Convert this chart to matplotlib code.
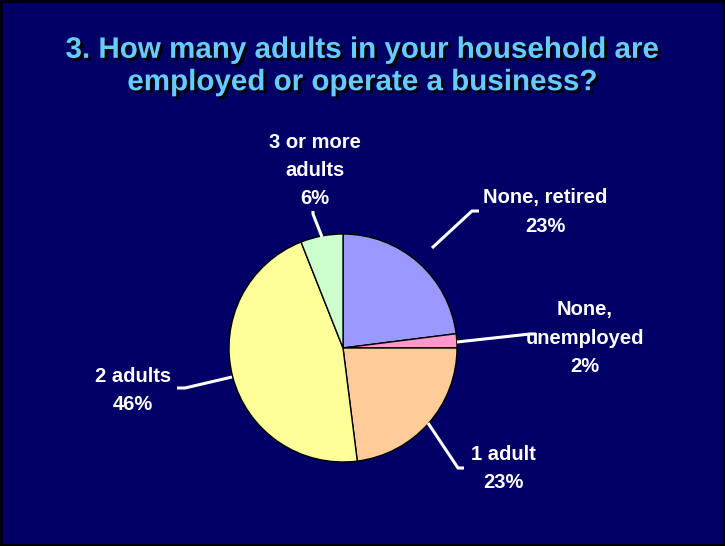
import matplotlib
matplotlib.use("Agg")
import matplotlib.pyplot as plt
import matplotlib.patheffects as pe
from matplotlib.patches import Rectangle

# Data
categories = ["None, retired", "None,\nunemployed", "1 adult", "2 adults", "3 or more\nadults"]
values = [23, 2, 23, 46, 6]
colors = ["#9999FF", "#FF99CC", "#FFCC99", "#FFFF99", "#CCFFCC"]
title = "3. How many adults in your household are\nemployed or operate a business?"

W, H = 725, 546
fig = plt.figure(figsize=(W / 100, H / 100), dpi=100)
fig.patch.set_facecolor("#000066")
ax = fig.add_axes([0, 0, 1, 1])
ax.set_facecolor("#000066")

def Y(y):
    return H - y

cx, cy, r = 343, Y(348), 114
wedges, _ = ax.pie(values, colors=colors, startangle=90, counterclock=False,
                   center=(cx, cy), radius=r,
                   wedgeprops=dict(edgecolor="black", linewidth=1.0))
ax.set_xlim(0, W)
ax.set_ylim(0, H)
ax.set_aspect("auto")
ax.axis("off")

# leader lines (image pixel coords)
leaders = [
    [(432, 248), (472, 211), (479, 211)],
    [(457, 342), (530, 334), (536, 334)],
    [(428, 423), (458, 468), (464, 468)],
    [(232, 377), (185, 388), (177, 388)],
    [(322, 237), (313, 214), (313, 211)],
]
for pts in leaders:
    ax.plot([p[0] for p in pts], [Y(p[1]) for p in pts], color="white", lw=2.2,
            solid_capstyle="butt", solid_joinstyle="miter", zorder=3)

label_pos = [(545, 212), (585, 338), (503, 469), (133, 390), (315, 171)]
for cat, v, (lx, ly) in zip(categories, values, label_pos):
    ax.text(lx, Y(ly), f"{cat}\n{v}%", color="white", fontsize=14.5, fontweight="bold",
            family="Liberation Sans", ha="center", va="center", linespacing=1.6,
            zorder=4)

ax.text(363, Y(66), title, color="#66CCFF", fontsize=21.3, fontweight="bold",
        family="Liberation Sans", ha="center", va="center", linespacing=1.2,
        path_effects=[pe.withSimplePatchShadow(offset=(2, -2), shadow_rgbFace="black", alpha=1.0)])

ax.add_patch(Rectangle((1, 1), W - 2, H - 2, fill=False, edgecolor="black", lw=2, zorder=5))

fig.savefig("out.png", dpi=100, facecolor=fig.get_facecolor())
